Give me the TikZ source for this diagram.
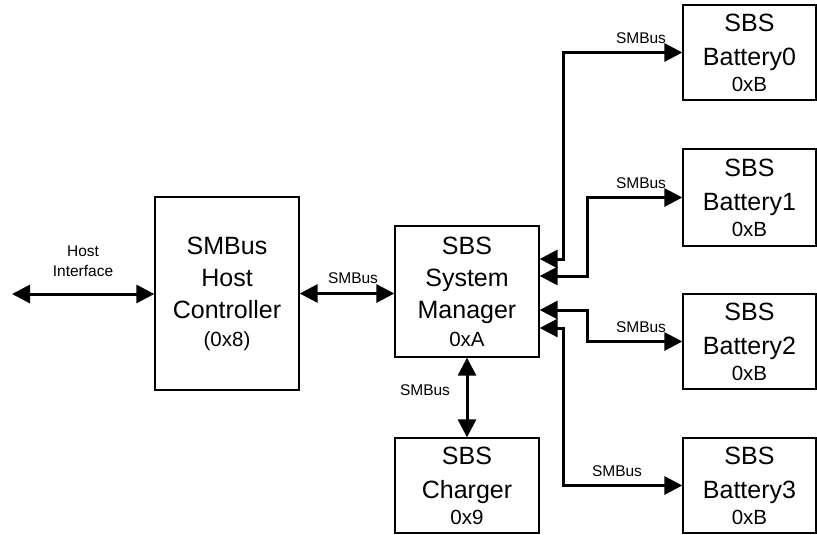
\documentclass[tikz,border=0pt]{standalone}
\usepackage{fontspec}
\setmainfont{Liberation Sans}
\usepackage{tikz}
\usetikzlibrary{arrows.meta,positioning}

\newcommand{\addr}[1]{{\fontsize{20.5}{24}\selectfont #1}}

\begin{document}
\begin{tikzpicture}[
x=1pt, y=-1pt,
unit/.style={
    draw,
    line width=1.3pt,
    inner sep=0pt,
    minimum width=144pt,
    align=center,
    font=\fontsize{25}{32}\selectfont
},
battery/.style={
    unit,
    minimum width=133pt,
    minimum height=95pt
},
busname/.style={
    inner sep=0pt,
    align=center,
    font=\fontsize{15.5}{20}\selectfont
},
bus/.style={
    {Triangle[length=18pt,width=18pt]}-{Triangle[length=18pt,width=18pt]},
    line width=3pt
}
]
\useasboundingbox (0,0) rectangle (817,535);

\node[unit, minimum height=193pt] (host) at (227,293.5)
{SMBus\\Host\\Controller\\[-4pt]\addr{(0x8)}};

\node[unit, minimum height=131pt] (mgr) at (467,291.5)
{SBS\\System\\Manager\\[-4pt]\addr{0xA}};

\node[unit, minimum height=95pt] (chg) at (467,485.5)
{SBS\\[2pt]Charger\\[-6pt]\addr{0x9}};

\node[battery] (b0) at (749.5,52.5) {SBS\\[2pt]Battery0\\[-6pt]\addr{0xB}};
\node[battery, minimum height=97pt] (b1) at (749.5,197.5) {SBS\\[2pt]Battery1\\[-6pt]\addr{0xB}};
\node[battery] (b2) at (749.5,341.5) {SBS\\[2pt]Battery2\\[-6pt]\addr{0xB}};
\node[battery] (b3) at (749.5,485.5) {SBS\\[2pt]Battery3\\[-6pt]\addr{0xB}};

\coordinate (hif) at (12,294);

\node[busname] (lhif) at (83,261) {Host\\Interface};
\node[busname] (lhost) at (353,278) {SMBus};
\node[busname] (lchg) at (425,390) {SMBus};
\node[busname] (lb0) at (641,38) {SMBus};
\node[busname] (lb1) at (641,183) {SMBus};
\node[busname] (lb2) at (641,327) {SMBus};
\node[busname] (lb3) at (617,471) {SMBus};

\draw[bus] (hif) -- (hif -| host.west);
\draw[bus] (host.east) -- (host.east -| mgr.west);
\draw[bus] (mgr.south) -- (chg.north);
\draw[bus] ([yshift=32.5pt]mgr.east) -- ++(24,0) |- (b0.west);
\draw[bus] ([yshift=15.5pt]mgr.east) -- ++(48,0) |- (b1.west);
\draw[bus] ([yshift=-18.5pt]mgr.east) -- ++(48,0) |- (b2.west);
\draw[bus] ([yshift=-36.5pt]mgr.east) -- ++(24,0) |- (b3.west);

\end{tikzpicture}
\end{document}
